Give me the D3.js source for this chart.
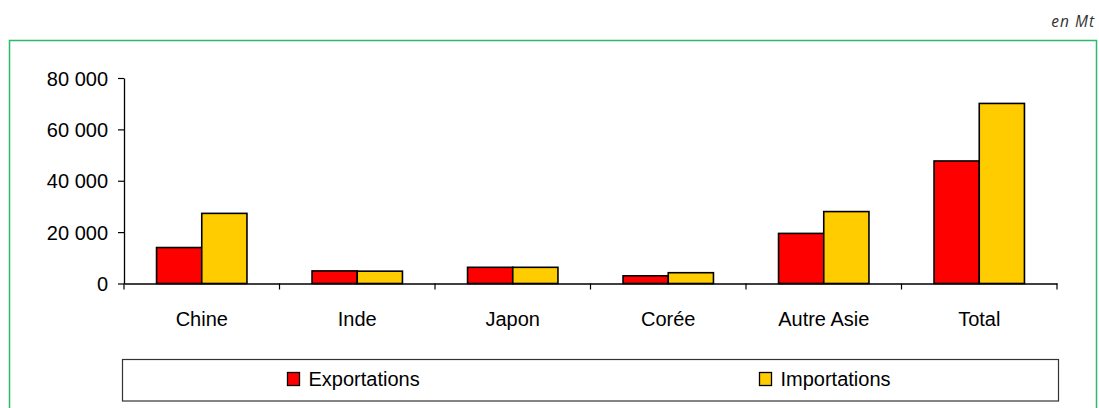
<!DOCTYPE html>
<html>
<head>
<meta charset="utf-8">
<script src="https://cdn.jsdelivr.net/npm/d3@7"></script>
<style>
  html, body { margin: 0; padding: 0; background: #fff; }
  svg { display: block; }
  text { font-family: "Liberation Sans", Arial, sans-serif; }
</style>
</head>
<body>
<svg id="chart" width="1099" height="408"></svg>
<script>
const categories = ["Chine", "Inde", "Japon", "Corée", "Autre Asie", "Total"];
const seriesNames = ["Exportations", "Importations"];
const exportations = [14000, 4900, 6300, 3000, 19500, 47700];
const importations = [27300, 4800, 6300, 4200, 28000, 70100];
const yTicks = [0, 20000, 40000, 60000, 80000];
const unitLabel = "en Mt";
const colors = ["#ff0000", "#ffcc00"];

const svg = d3.select("#chart");

// outer green frame
svg.append("rect")
  .attr("x", 9.5).attr("y", 40.5)
  .attr("width", 1087).attr("height", 400)
  .attr("fill", "none").attr("stroke", "#2fb866").attr("stroke-width", 1.5);

// unit label
svg.append("text")
  .attr("x", 1095).attr("y", 27)
  .attr("text-anchor", "end")
  .style("font-family", "'Open Sans', 'DejaVu Sans', sans-serif")
  .style("font-style", "italic")
  .style("font-size", "15.5px")
  .style("letter-spacing", "1px")
  .attr("fill", "#333")
  .text(unitLabel);

const x0 = d3.scaleBand().domain(categories).range([124, 1057]).padding(0);
const x1 = d3.scaleBand().domain(seriesNames).range([0, x0.bandwidth()]).paddingInner(0).paddingOuter(0.72);
const y = d3.scaleLinear().domain([0, 80000]).range([283.5, 78]);

const fmt = v => d3.format(",")(v).replace(/,/g, " ");

// bars
const data = categories.map((c, i) => ({ cat: c, vals: [exportations[i], importations[i]] }));
const groups = svg.append("g").selectAll("g").data(data).join("g")
  .attr("transform", d => `translate(${x0(d.cat)},0)`);
groups.selectAll("rect").data(d => d.vals.map((v, j) => ({ s: seriesNames[j], v, j })))
  .join("rect")
  .attr("x", d => x1(d.s))
  .attr("y", d => y(d.v))
  .attr("width", x1.bandwidth())
  .attr("height", d => y(0) - y(d.v))
  .attr("fill", d => colors[d.j])
  .attr("stroke", "#000").attr("stroke-width", 1.6);

// y axis
const yAxis = svg.append("g").attr("transform", "translate(124,0)")
  .call(d3.axisLeft(y).tickValues(yTicks).tickFormat(fmt).tickSize(6).tickSizeOuter(0).tickPadding(10));
yAxis.select(".domain").attr("stroke", "#000").attr("stroke-width", 1.3);
yAxis.selectAll(".tick line").attr("stroke", "#000").attr("stroke-width", 1.2);
yAxis.selectAll("text").style("font-size", "20px").style("font-family", "'Liberation Sans', Arial, sans-serif").attr("fill", "#000").attr("dy", "0.35em");

// x axis
const xAxis = svg.append("g").attr("transform", `translate(0,${y(0)})`)
  .call(d3.axisBottom(x0).tickSize(0).tickPadding(28));
xAxis.select(".domain").attr("stroke", "#000").attr("stroke-width", 1.3);
xAxis.selectAll("text").style("font-size", "20px").style("font-family", "'Liberation Sans', Arial, sans-serif").attr("fill", "#000");
// boundary ticks
const bounds = categories.map(c => x0(c)).concat([x0.range()[1]]);
svg.append("g").selectAll("line").data(bounds).join("line")
  .attr("x1", d => d).attr("x2", d => d)
  .attr("y1", y(0)).attr("y2", y(0) + 6)
  .attr("stroke", "#000").attr("stroke-width", 1.2);

// legend
const legend = svg.append("g");
legend.append("rect")
  .attr("x", 122.5).attr("y", 359.5).attr("width", 936).attr("height", 41.5)
  .attr("fill", "#fff").attr("stroke", "#333").attr("stroke-width", 1.2);
const legendX = [287.5, 759.5];
seriesNames.forEach((s, i) => {
  legend.append("rect")
    .attr("x", legendX[i]).attr("y", 372.5).attr("width", 12).attr("height", 13)
    .attr("fill", colors[i]).attr("stroke", "#000").attr("stroke-width", 1.3);
  legend.append("text")
    .attr("x", legendX[i] + 21).attr("y", 386)
    .style("font-size", "20px")
    .attr("fill", "#000")
    .text(s);
});
</script>
</body>
</html>
